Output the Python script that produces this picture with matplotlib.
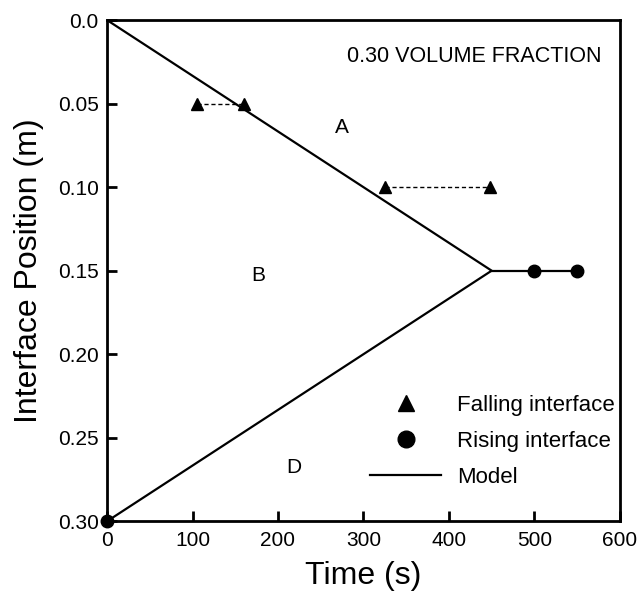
import matplotlib.pyplot as plt
from matplotlib.lines import Line2D

plt.rcParams['font.family'] = ['Liberation Sans', 'DejaVu Sans']

# model line (falling then rising then plateau)
model_t = [0, 450, 0]
model_z = [0.0, 0.15, 0.30]
plateau_t = [450, 550]
plateau_z = [0.15, 0.15]

# falling interface measurements (pairs joined by dashed lines)
fall_t1 = [105, 160]
fall_z1 = [0.05, 0.05]
fall_t2 = [325, 448]
fall_z2 = [0.10, 0.10]

# rising interface measurements
rise_t = [0, 500, 550]
rise_z = [0.30, 0.15, 0.15]

yticks = [0.0, 0.05, 0.10, 0.15, 0.20, 0.25, 0.30]
ylabels = ['0.0', '0.05', '0.10', '0.15', '0.20', '0.25', '0.30']
xticks = [0, 100, 200, 300, 400, 500, 600]

fig = plt.figure(figsize=(6.41, 5.91), dpi=100)
ax = fig.add_axes([0.167, 0.118, 0.8, 0.848])

ax.plot(model_t, model_z, color='black', lw=1.6)
ax.plot(plateau_t, plateau_z, color='black', lw=1.6)
ax.plot(fall_t1, fall_z1, color='black', lw=1, ls=(0, (3, 2)))
ax.plot(fall_t2, fall_z2, color='black', lw=1, ls=(0, (3, 2)))
ax.plot(fall_t1 + fall_t2, fall_z1 + fall_z2, '^', color='black', ms=9, ls='none')
ax.plot(rise_t, rise_z, 'o', color='black', ms=9, ls='none', clip_on=False, zorder=5)

ax.set_xlim(0, 600)
ax.set_ylim(0.30, 0.0)
ax.set_xticks(xticks)
ax.set_yticks(yticks)
ax.set_yticklabels(ylabels)
ax.tick_params(direction='in', length=7, width=2, labelsize=15, top=False, right=False)
ax.tick_params(axis='x', pad=7)
ax.tick_params(axis='y', pad=6)
for s in ax.spines.values():
    s.set_linewidth(2)

ax.set_xlabel('Time (s)', fontsize=23, labelpad=8)
ax.set_ylabel('Interface Position (m)', fontsize=23, labelpad=10)

ax.text(430, 0.022, '0.30 VOLUME FRACTION', fontsize=15.5, ha='center', va='center')
ax.text(275, 0.064, 'A', fontsize=15, ha='center', va='center')
ax.text(177, 0.153, 'B', fontsize=15, ha='center', va='center')
ax.text(218, 0.268, 'D', fontsize=15, ha='center', va='center')

handles = [
    Line2D([], [], marker='^', color='black', ls='none', ms=12),
    Line2D([], [], marker='o', color='black', ls='none', ms=12),
    Line2D([], [], color='black', lw=1.6),
]
labels = ['Falling interface', 'Rising interface', 'Model']
ax.legend(handles, labels, loc='upper left', bbox_to_anchor=(0.513, 0.252),
          borderpad=0, borderaxespad=0, frameon=False, fontsize=16,
          handlelength=3.2, handletextpad=0.7, labelspacing=0.68)

fig.savefig('out.png', dpi=100)
